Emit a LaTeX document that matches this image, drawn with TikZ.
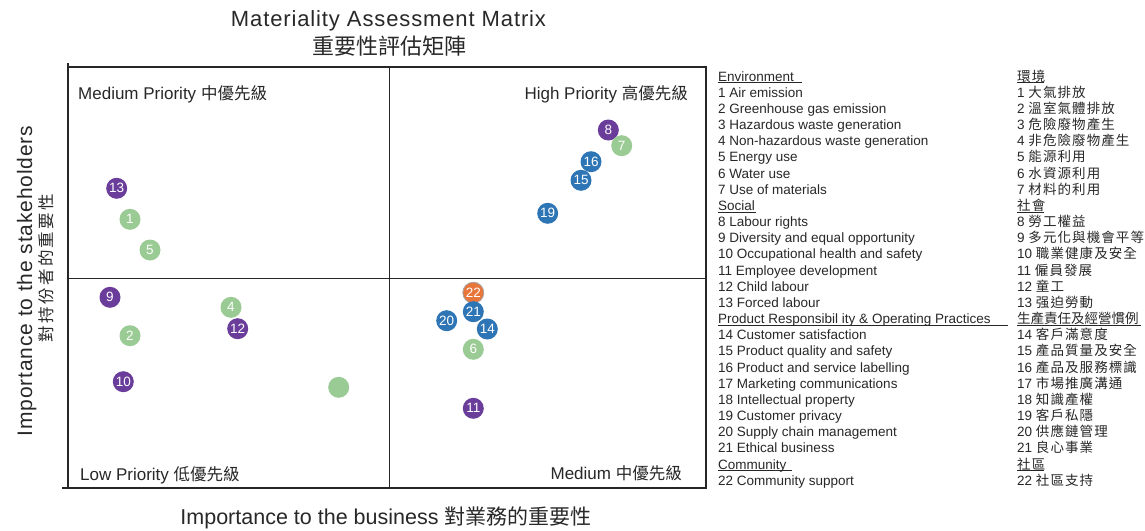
\documentclass[tikz,border=0pt]{standalone}
\usepackage{fontspec}
\setmainfont{Liberation Sans}
\newfontfamily\cjk{Noto Sans CJK TC}
\newfontfamily\cjkl{Noto Sans CJK TC}[LetterSpace=8]
\newfontfamily\cjky{Noto Sans CJK TC}[LetterSpace=14]
\newfontfamily\ylabfont{Liberation Sans}[LetterSpace=4]
\newfontfamily\mytitlefont{Liberation Sans}[LetterSpace=4]
\definecolor{txt}{RGB}{40,40,40}
\definecolor{cpur}{RGB}{106,61,154}
\definecolor{cgrn}{RGB}{155,203,148}
\definecolor{cblu}{RGB}{46,117,182}
\definecolor{corg}{RGB}{232,117,58}
\tikzset{
  lg/.style={anchor=base west, inner sep=0pt, font=\fontsize{13.5}{16}\selectfont, text=txt},
  qd/.style={inner sep=0pt, font=\fontsize{17}{20}\selectfont, text=txt},
  bub/.style={circle, minimum size=21pt, inner sep=0pt, text=white, font=\fontsize{13.5}{14}\selectfont},
  pu/.style={bub, fill=cpur},
  gr/.style={bub, fill=cgrn},
  bl/.style={bub, fill=cblu},
  og/.style={bub, fill=corg, draw=gray!70, line width=0.8pt},
  frame/.style={draw=black!85, line width=1.6pt},
  mid/.style={draw=black!85, line width=1pt},
  uline/.style={draw=black!85, line width=1.2pt},
}
\begin{document}
\begin{tikzpicture}[x=1pt,y=-1pt]
\useasboundingbox (0,0) rectangle (1145,530);
\fill[white] (0,0) rectangle (1145,530);

% title
\node[inner sep=0pt, anchor=base, text=txt, font=\fontsize{22}{24}\mytitlefont] (t1) at (388.5,26.7) {Materiality Assessment Matrix};
\node[inner sep=0pt, anchor=base, text=txt, font=\fontsize{22}{24}\cjk] (t2) at (389.5,54) {重要性評估矩陣};

% frame
\draw[frame] (68,67) rectangle (706,488);
\draw[frame] (62,488) -- (68,488);
\draw[frame] (68,63) -- (68,67);
\draw[mid] (389,67) -- (389,488);
\draw[mid] (68,278) -- (706,278);

% quadrant labels
\node[qd, anchor=base west] (qtl) at (78,99.3) {Medium Priority {\cjk\fontsize{16.5}{20}\selectfont 中優先級}};
\node[qd, anchor=base east] (qtr) at (688,99.3) {High Priority {\cjk\fontsize{16.5}{20}\selectfont 高優先級}};
\node[qd, anchor=base west] (qbl) at (80,480) {Low Priority {\cjk\fontsize{16.5}{20}\selectfont 低優先級}};
\node[qd, anchor=base east] (qbr) at (682,479.3) {Medium {\cjk\fontsize{16.5}{20}\selectfont 中優先級}};

% axis labels
\node[inner sep=0pt, anchor=base, text=txt, font=\fontsize{21}{24}\ylabfont, rotate=90] (ya) at (32,281) {Importance to the stakeholders};
\node[inner sep=0pt, anchor=base, text=txt, font=\fontsize{16.5}{20}\cjky, rotate=90] (yb) at (52,268) {對持份者的重要性};
\node[inner sep=0pt, anchor=base, text=txt, font=\fontsize{21.5}{24}\selectfont] (xa) at (386,524) {Importance to the business {\cjk\fontsize{21}{24}\selectfont 對業務的重要性}};

% bubbles
\node[pu] (b13) at (116.7,188.3) {13};
\node[gr] (b1) at (130,219.3) {1};
\node[gr] (b5) at (150,250) {5};
\node[pu] (b9) at (110,297.3) {9};
\node[gr] (b4) at (231,307.3) {4};
\node[pu] (b12) at (237.7,328.7) {12};
\node[gr] (b2) at (130,335.7) {2};
\node[pu] (b10) at (123.3,381.7) {10};
\node[gr] (b3) at (338.7,387.3) {};
\node[pu] (b8) at (608.3,130) {8};
\node[gr] (b7) at (621.7,145.7) {7};
\node[bl] (b16) at (591,161.7) {16};
\node[bl] (b15) at (581,180.3) {15};
\node[bl] (b19) at (547.7,213.3) {19};
\node[og] (b22) at (473.3,292.7) {22};
\node[bl] (b21) at (473.3,311.7) {21};
\node[bl] (b20) at (446.7,320.7) {20};
\node[bl] (b14) at (487.3,329) {14};
\node[gr] (b6) at (473.3,349.3) {6};
\node[pu] (b11) at (473.3,408.3) {11};

% legend (English)
\foreach \t [count=\i from 0] in {Environment, 1 Air emission, 2 Greenhouse gas emission, 3 Hazardous waste generation, 4 Non-hazardous waste generation, 5 Energy use, 6 Water use, 7 Use of materials, Social, 8 Labour rights, 9 Diversity and equal opportunity, 10 Occupational health and safety, 11 Employee development, 12 Child labour, 13 Forced labour, Product Responsibil ity \& Operating Practices, 14 Customer satisfaction, 15 Product quality and safety, 16 Product and service labelling, 17 Marketing communications, 18 Intellectual property, 19 Customer privacy, 20 Supply chain management, 21 Ethical business, Community, 22 Community support}
  \node[lg] (en\i) at (718,{81+16.17*\i}) {\t};

% legend (Chinese)
\foreach \t [count=\i from 0] in {\cjkl 環境, 1 \cjkl 大氣排放, 2 \cjkl 溫室氣體排放, 3 \cjkl 危險廢物產生, 4 \cjkl 非危險廢物產生, 5 \cjkl 能源利用, 6 \cjkl 水資源利用, 7 \cjkl 材料的利用, \cjkl 社會, 8 \cjkl 勞工權益, 9 \cjkl 多元化與機會平等, 10 \cjkl 職業健康及安全, 11 \cjkl 僱員發展, 12 \cjkl 童工, 13 \cjkl 强迫勞動, \cjk 生產責任及經營慣例, 14 \cjkl 客戶滿意度, 15 \cjkl 產品質量及安全, 16 \cjkl 產品及服務標識, 17 \cjkl 市場推廣溝通, 18 \cjkl 知識產權, 19 \cjkl 客戶私隱, 20 \cjkl 供應鏈管理, 21 \cjkl 良心事業, \cjkl 社區, 22 \cjkl 社區支持}
  \node[lg] (zh\i) at (1017,{81+16.17*\i}) {\t};

% heading underlines
\draw[uline] ([yshift=-1.8pt]en0.base west) -- +(84,0);
\draw[uline] ([yshift=-1.8pt]en8.base west) -- +(38,0);
\draw[uline] ([yshift=-1.8pt]en15.base west) -- +(290,0);
\draw[uline] ([yshift=-1.8pt]en24.base west) -- +(74,0);
\draw[uline] ([yshift=-1.8pt]zh0.base west) -- +(27,0);
\draw[uline] ([yshift=-1.8pt]zh8.base west) -- +(27,0);
\draw[uline] ([yshift=-1.8pt]zh15.base west) -- +(124,0);
\draw[uline] ([yshift=-1.8pt]zh24.base west) -- +(27,0);
\end{tikzpicture}
\end{document}
